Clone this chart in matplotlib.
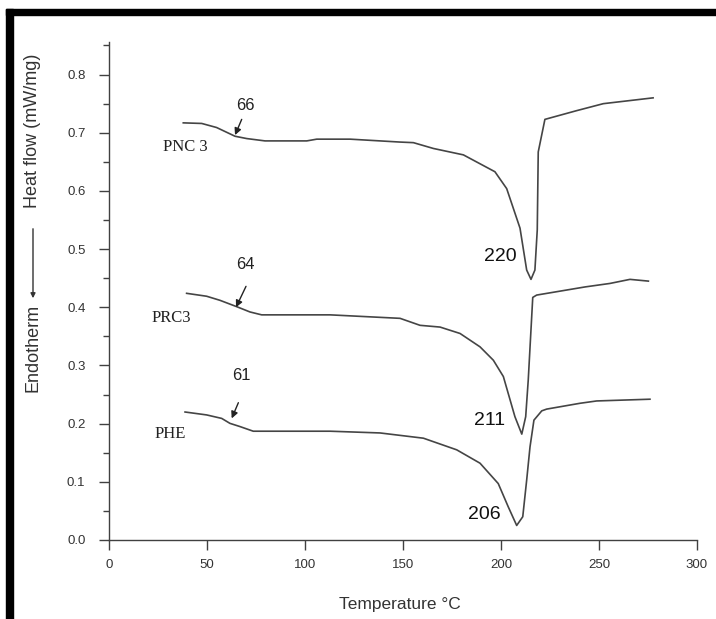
import numpy as np
import matplotlib
matplotlib.use("Agg")
from matplotlib import pyplot as plt
from matplotlib.patches import Rectangle, FancyArrowPatch

# DSC curves (temperature in C, heat flow in mW/mg)
pnc3_t = [37.9, 47.3, 54.9, 64.3, 70.3, 79.6, 100.9, 106, 123, 148.5, 155.3, 165.5,
          180.8, 196.9, 202.9, 209.7, 213.1, 215.3, 217.3, 218.5, 219.0, 222.4,
          238.6, 252.2, 277.6]
pnc3_q = [0.717, 0.716, 0.709, 0.694, 0.690, 0.686, 0.686, 0.689, 0.689, 0.684, 0.683, 0.673,
          0.662, 0.633, 0.604, 0.536, 0.464, 0.448, 0.464, 0.533, 0.667, 0.723,
          0.738, 0.750, 0.760]

prc3_t = [39.6, 49.8, 56.6, 65.2, 71.9, 77.9, 112.8, 148.5, 158.7, 168.9, 179.1, 189.3,
          196.1, 201.2, 207.1, 210.6, 212.6, 213.9, 216.2, 218.2, 242.9, 255.6, 265.8, 275.2]
prc3_q = [0.424, 0.419, 0.412, 0.401, 0.392, 0.387, 0.387, 0.381, 0.369, 0.366, 0.355, 0.332,
          0.309, 0.281, 0.212, 0.182, 0.212, 0.275, 0.417, 0.421, 0.435, 0.441, 0.448, 0.445]

phe_t = [38.8, 49.8, 57.5, 61.7, 66.8, 73.6, 112.8, 138.3, 160.4, 177.4, 189.3, 198.6,
         203.7, 208.0, 211.1, 213.1, 214.8, 216.8, 220.8, 223.3, 240.3, 248.8, 276.0]
phe_q = [0.220, 0.215, 0.209, 0.2005, 0.195, 0.187, 0.187, 0.184, 0.175, 0.155, 0.132, 0.097,
         0.057, 0.025, 0.040, 0.103, 0.160, 0.206, 0.222, 0.225, 0.235, 0.239, 0.242]

names = ["PNC 3", "PRC3", "PHE"]
name_pos = [(38.8, 0.676), (32.0, 0.381), (31.1, 0.183)]
tg_labels = ["66", "64", "61"]
tg_text_pos = [(69.4, 0.747), (69.4, 0.473), (67.7, 0.2835)]
tg_tail = [(67.7, 0.723), (69.9, 0.436), (66.0, 0.236)]
tg_tip = [(64.3, 0.696), (64.8, 0.400), (62.6, 0.209)]
peak_labels = ["220", "211", "206"]
peak_pos = [(199.5, 0.487), (194.4, 0.206), (191.3, 0.043)]

W, H = 716, 619
fig = plt.figure(figsize=(W / 100, H / 100), dpi=100)
fig.patch.set_facecolor("white")

x0, x1 = 109, 697
ybot, ytop = 540, 42
ax = fig.add_axes([x0 / W, (H - ybot) / H, (x1 - x0) / W, (ybot - ytop) / H])

line_kw = dict(color="#454545", lw=1.2)
ax.plot(pnc3_t, pnc3_q, **line_kw)
ax.plot(prc3_t, prc3_q, **line_kw)
ax.plot(phe_t, phe_q, **line_kw)

ax.set_xlim(0, 300)
ax.set_ylim(0, 0.856)
ax.set_xticks(np.arange(0, 301, 50))
ax.set_yticks(np.arange(0, 0.81, 0.1))
ax.set_yticks(np.arange(0.05, 0.86, 0.1), minor=True)
ax.set_yticklabels(["%.1f" % v for v in np.arange(0, 0.81, 0.1)])

for s in ["top", "right"]:
    ax.spines[s].set_visible(False)
for s in ["left", "bottom"]:
    ax.spines[s].set_color("#404040")
    ax.spines[s].set_linewidth(1.0)
ax.tick_params(axis="both", which="major", length=7, width=1.0, color="#404040",
               labelsize=9.5, labelcolor="#333333", pad=7)
ax.tick_params(axis="y", which="major", pad=10)
ax.tick_params(axis="y", which="minor", length=4, width=1.0, color="#404040")
for lab in ax.get_xticklabels() + ax.get_yticklabels():
    lab.set_family("Liberation Sans")

for name, p in zip(names, name_pos):
    ax.text(p[0], p[1], name, ha="center", va="center", fontsize=12,
            family="Liberation Serif", color="#222222")
for lab, tp, tail, tip in zip(tg_labels, tg_text_pos, tg_tail, tg_tip):
    ax.text(tp[0], tp[1], lab, ha="center", va="center", fontsize=12,
            family="Liberation Sans", color="#222222")
    ax.annotate("", xy=tip, xytext=tail,
                arrowprops=dict(arrowstyle="-|>", color="#222222", lw=1.0,
                                mutation_scale=10, shrinkA=0, shrinkB=0))
for lab, p in zip(peak_labels, peak_pos):
    ax.text(p[0], p[1], lab, ha="center", va="center", fontsize=14,
            family="Liberation Sans", color="#111111")

fig.text(400 / W, 1 - 605 / H, "Temperature \u00b0C", ha="center", va="center",
         fontsize=12.5, family="Liberation Sans", color="#333333")

# y label: Endotherm <--- Heat flow (mW/mg)
fig.text(33 / W, 1 - 348 / H, "Endotherm", rotation=90, ha="center", va="center",
         fontsize=13, family="Liberation Sans", color="#333333")
fig.text(33 / W, 1 - 131 / H, "Heat flow (mW/mg)", rotation=90, ha="center", va="center",
         fontsize=13, family="Liberation Sans", color="#333333")
fig.add_artist(FancyArrowPatch(
    (33 / W, 1 - 226 / H), (33 / W, 1 - 301 / H), transform=fig.transFigure,
    arrowstyle="-|>", mutation_scale=7, color="#333333", lw=1.0))

# thick black frame on the left and top
fig.patches.append(Rectangle((6 / W, 0), 7 / W, 1 - 9 / H, transform=fig.transFigure,
                             color="black", zorder=10))
fig.patches.append(Rectangle((6 / W, 1 - 15 / H), 1 - 6 / W, 6 / H, transform=fig.transFigure,
                             color="black", zorder=10))

fig.savefig("out.png", dpi=100)
